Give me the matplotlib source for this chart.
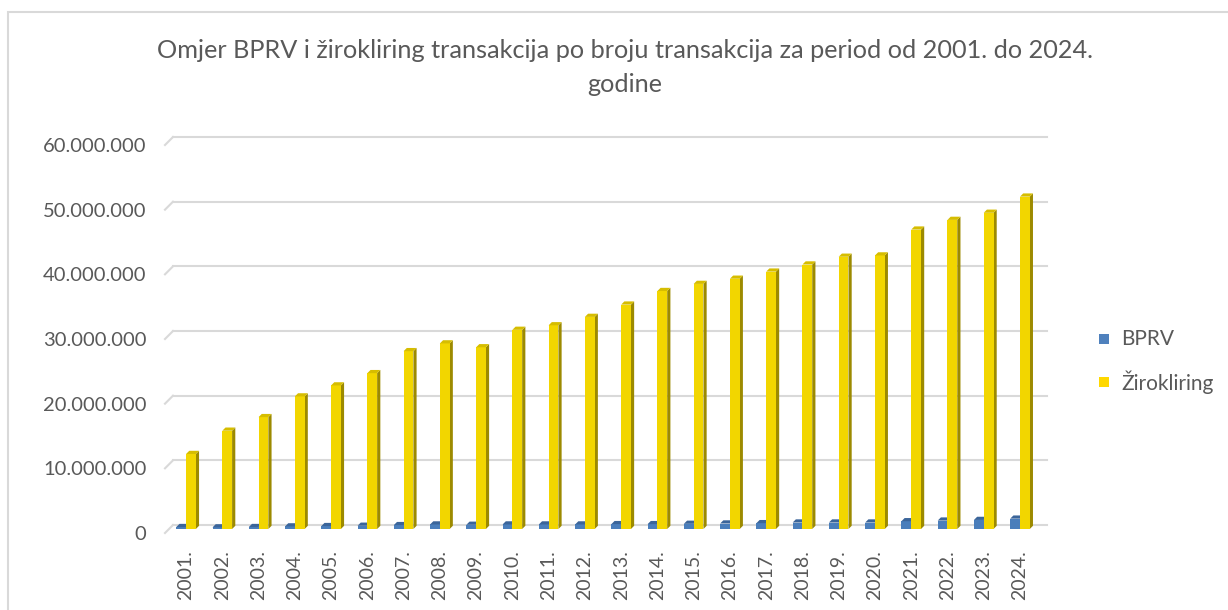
import matplotlib
matplotlib.use("Agg")
import matplotlib.pyplot as plt
from matplotlib.patches import Polygon, Rectangle
from matplotlib.ticker import FuncFormatter
from matplotlib.transforms import ScaledTranslation
import numpy as np

plt.rcParams["font.family"] = ["Lato", "DejaVu Sans"]

years = [f"{y}." for y in range(2001, 2025)]
bprv = [0.30, 0.25, 0.30, 0.40, 0.45, 0.50, 0.60, 0.70, 0.65, 0.70, 0.70, 0.70,
        0.75, 0.75, 0.80, 0.85, 0.90, 1.00, 1.00, 1.00, 1.20, 1.30, 1.40, 1.60]
ziro = [11.6, 15.2, 17.3, 20.5, 22.2, 24.1, 27.5, 28.7, 28.1, 30.8, 31.5, 32.8,
        34.7, 36.8, 37.9, 38.7, 39.8, 40.9, 42.1, 42.3, 46.3, 47.8, 48.9, 51.4]
bprv = np.array(bprv) * 1e6
ziro = np.array(ziro) * 1e6
series = [("BPRV", bprv), ("Žirokliring", ziro)]

TXT = "#595959"
GRID = "#D9D9D9"
FACE = {"BPRV": ("#4A7EBB", "#3B659A", "#2E5383"),
        "Žirokliring": ("#F2D600", "#D6BD00", "#9C8A00")}
LEG = {"BPRV": "#4F81BD", "Žirokliring": "#FFD800"}

W, H = 1228, 610
fig = plt.figure(figsize=(W / 100, H / 100), dpi=100)
ax_l, ax_r, ax_b, ax_t = 173, 1047, 525, 137
ax = fig.add_axes([ax_l / W, 1 - ax_b / H, (ax_r - ax_l) / W, (ax_b - ax_t) / H])

x = np.arange(len(years))
xmin, xmax = -0.36, len(years) - 1 + 0.745
ymax = 60e6
ax.set_xlim(xmin, xmax)
ax.set_ylim(0, ymax)
px_x = (ax_r - ax_l) / (xmax - xmin)   # pixels per category unit
px_y = (ax_b - ax_t) / ymax           # pixels per transaction

# gridlines on the back wall, with the small 3D floor slant on the left
for v in np.arange(0, ymax + 1, 10e6):
    ax.plot([xmin, xmax], [v, v], color=GRID, lw=1.5, zorder=0, clip_on=False)
    ax.plot([xmin - 8 / px_x, xmin], [v - 8 / px_y, v], color=GRID, lw=1.5,
            zorder=0, clip_on=False)

# pseudo-3D columns, front faces sit a few pixels in front of (below) the wall
front_shift = ax.transData + ScaledTranslation(0, -0.04, fig.dpi_scale_trans)
bw = 0.27
dx, dy = 3.2 / px_x, 3.2 / px_y
for i, (name, vals) in enumerate(series):
    front, top, side = FACE[name]
    for xi, h in zip(x, vals):
        x0 = xi - bw + i * bw
        x1 = x0 + bw
        kw = dict(edgecolor="none", transform=front_shift, clip_on=False)
        ax.add_patch(Rectangle((x0, 0), bw, h, facecolor=front, zorder=3, **kw))
        ax.add_patch(Polygon([(x1, 0), (x1 + dx, dy), (x1 + dx, h + dy), (x1, h)],
                             facecolor=side, zorder=2, **kw))
        ax.add_patch(Polygon([(x0, h), (x1, h), (x1 + dx, h + dy), (x0 + dx, h + dy)],
                             facecolor=top, zorder=3, **kw))

for s in ax.spines.values():
    s.set_visible(False)
ax.set_xticks(x)
ax.set_xticklabels(years, rotation=90, color=TXT)
ax.set_yticks(np.arange(0, ymax + 1, 10e6))
ax.yaxis.set_major_formatter(FuncFormatter(lambda v, p: f"{int(v):,}".replace(",", ".")))
ax.tick_params(axis="both", length=0, labelcolor=TXT)
ax.tick_params(axis="x", pad=18, labelsize=14)
ax.tick_params(axis="y", pad=19, labelsize=14.5)
for lab in ax.get_yticklabels():
    lab.set_transform(lab.get_transform() + ScaledTranslation(0, -0.08, fig.dpi_scale_trans))

# title
fig.text(625 / W, 1 - 50 / H,
         "Omjer BPRV i žirokliring transakcija po broju transakcija za period od 2001. do 2024.",
         ha="center", va="center", fontsize=18.2, color=TXT)
fig.text(625 / W, 1 - 85 / H, "godine", ha="center", va="center", fontsize=18.2, color=TXT)

# legend
for (name, _), yl in zip(series, [339, 382]):
    fig.patches.append(Rectangle((1099 / W, 1 - (yl + 5) / H), 10 / W, 10 / H,
                                 transform=fig.transFigure, facecolor=LEG[name],
                                 edgecolor="none"))
    fig.text(1121 / W, 1 - yl / H, name, ha="left", va="center", fontsize=15, color=TXT)

# chart border
fig.patches.append(Rectangle((8 / W, -0.1), 1.2, 1 - 12 / H + 0.1, transform=fig.transFigure,
                             facecolor="none", edgecolor=GRID, lw=1.5))

fig.savefig("out.png", dpi=100)
